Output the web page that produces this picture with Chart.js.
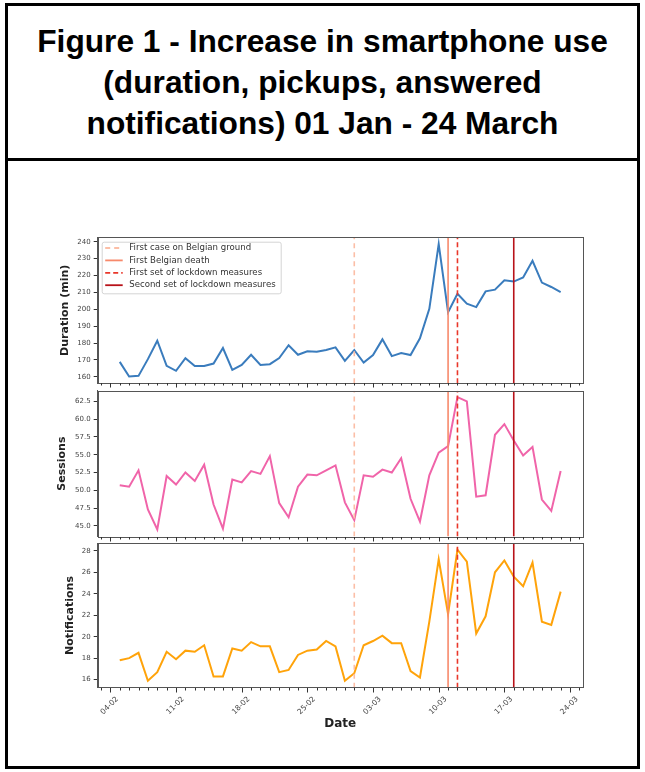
<!DOCTYPE html>
<html>
<head>
<meta charset="utf-8">
<title>Figure 1</title>
<script src="https://cdn.jsdelivr.net/npm/chart.js@4.4.0/dist/chart.umd.min.js"></script>
<style>
  body { margin: 0; background: #fff; }
  #page { position: relative; width: 645px; height: 772px; overflow: hidden; }
  #frame { position: absolute; left: 5px; top: 3px; width: 635px; height: 766px; border: 3px solid #000; box-sizing: border-box; }
  #sep { position: absolute; left: 5px; top: 158px; width: 635px; height: 3px; background: #000; }
  #title { position: absolute; left: 5px; top: 21px; width: 635px; text-align: center;
    font: bold 31.7px "Liberation Sans", Arial, sans-serif; line-height: 41px; color: #000; }
  canvas { position: absolute; left: 0; }
</style>
</head>
<body>
<div id="page">
  <div id="frame"></div>
  <div id="sep"></div>
  <div id="title">Figure 1 - Increase in smartphone use<br>(duration, pickups, answered<br>notifications) 01 Jan - 24 March</div>
  <canvas id="c1" width="645" height="175" style="top:220px"></canvas>
  <canvas id="c2" width="645" height="170" style="top:378px"></canvas>
  <canvas id="c3" width="645" height="235" style="top:530px"></canvas>
</div>
<script>
// daily values, 05-02 .. 23-03 (2020)
var dates = ['05-02','06-02','07-02','08-02','09-02','10-02','11-02','12-02','13-02','14-02',
  '15-02','16-02','17-02','18-02','19-02','20-02','21-02','22-02','23-02','24-02',
  '25-02','26-02','27-02','28-02','29-02','01-03','02-03','03-03','04-03','05-03',
  '06-03','07-03','08-03','09-03','10-03','11-03','12-03','13-03','14-03','15-03',
  '16-03','17-03','18-03','19-03','20-03','21-03','22-03','23-03'];

var duration = [168.9,160.2,160.6,170.5,181.4,166.5,163.6,171.1,166.4,166.5,
  167.9,177.1,164.2,167.1,173.1,167.1,167.5,171.1,178.7,173.1,
  175.1,174.9,175.9,177.5,169.5,175.9,168.5,172.9,182.2,172.3,
  174.1,172.9,182.8,200.3,238.6,198.3,209.2,203.3,201.3,210.6,
  211.6,217.2,216.4,218.8,228.7,215.8,213.2,210.2];

var sessions = [50.7,50.5,52.8,47.3,44.5,52.0,50.8,52.5,51.3,53.6,
  48.0,44.6,51.5,51.1,52.7,52.3,54.8,48.2,46.2,50.5,
  52.2,52.1,52.8,53.5,48.3,45.8,52.1,51.9,52.9,52.5,
  54.5,48.8,45.6,52.1,55.3,56.2,63.1,62.5,49.1,49.3,
  57.8,59.3,57.0,54.9,56.1,48.7,47.1,52.7];

var notifications = [17.8,18.0,18.5,15.9,16.7,18.6,17.9,18.7,18.6,19.2,
  16.3,16.3,18.9,18.7,19.5,19.1,19.1,16.7,16.9,18.3,
  18.7,18.8,19.6,19.1,15.9,16.6,19.2,19.6,20.1,19.4,
  19.4,16.8,16.2,21.4,27.2,22.1,28.1,27.0,20.3,21.9,
  26.0,27.1,25.6,24.7,26.9,21.4,21.1,24.2];

var durationTicks = [160,170,180,190,200,210,220,230,240];
var sessionTicks = [45,47.5,50,52.5,55,57.5,60,62.5];
var notifTicks = [16,18,20,22,24,26,28];
var weekLabels = ['04-02','11-02','18-02','25-02','03-03','10-03','17-03','24-03'];

var eventNames = ['First case on Belgian ground','First Belgian death','First set of lockdown measures','Second set of lockdown measures'];
var eventDates = ['01-03','11-03','12-03','18-03'];
var eventColors = ['#fcbea6','#f7896b','#e9372a','#b81219'];
var eventDash = [[5,4],[],[5,3],[]];

function dayNum(s) {
  var d = parseInt(s.slice(0,2)), m = parseInt(s.slice(3,5));
  return d + (m == 3 ? 60 : m == 2 ? 31 : 0);
}

var xMin = dayNum(dates[0]) - 2.35;
var xMax = dayNum(dates[dates.length-1]) + 2.35;
var FONT = '"DejaVu Sans", sans-serif';

// frame, daily minor ticks and weekly major ticks on the date axis
var framePlugin = {
  id: 'frame',
  afterDraw: function(chart) {
    var ctx = chart.ctx, a = chart.chartArea, x = chart.scales.x;
    ctx.save();
    ctx.strokeStyle = '#555';
    ctx.lineWidth = 1;
    ctx.strokeRect(Math.round(a.left) + 0.5, Math.round(a.top) + 0.5, Math.round(a.right - a.left), Math.round(a.bottom - a.top));
    ctx.strokeStyle = '#333';
    var wk = weekLabels.map(dayNum);
    for (var d = Math.ceil(xMin); d <= xMax; d++) {
      var px = Math.round(x.getPixelForValue(d)) + 0.5;
      var len = wk.indexOf(d) >= 0 ? 4.5 : 2.5;
      ctx.beginPath();
      ctx.moveTo(px, Math.round(a.bottom));
      ctx.lineTo(px, Math.round(a.bottom) + len);
      ctx.stroke();
    }
    ctx.restore();
  }
};

// matplotlib-like legend box in the upper left corner
var boxLegend = {
  id: 'boxLegend',
  afterDraw: function(chart, args, opts) {
    if (!opts.show) return;
    var ctx = chart.ctx, a = chart.chartArea;
    var bx = a.left + 4, by = a.top + 4.4, bw = 179, bh = 51.6;
    ctx.save();
    ctx.fillStyle = 'rgba(255,255,255,0.85)';
    ctx.strokeStyle = '#d4d4d4';
    ctx.lineWidth = 1;
    ctx.beginPath();
    ctx.roundRect(bx + 0.5, by + 0.5, bw, bh, 2);
    ctx.fill();
    ctx.stroke();
    ctx.font = '8.6px ' + FONT;
    ctx.textBaseline = 'middle';
    ctx.fillStyle = '#333';
    for (var i = 0; i < eventNames.length; i++) {
      var yy = by + 6.3 + i * 12.4;
      ctx.strokeStyle = eventColors[i];
      ctx.lineWidth = 1.8;
      ctx.setLineDash(eventDash[i]);
      ctx.beginPath();
      ctx.moveTo(bx + 3.5, yy);
      ctx.lineTo(bx + 21, yy);
      ctx.stroke();
      ctx.setLineDash([]);
      ctx.fillText(eventNames[i], bx + 27.5, yy);
    }
    ctx.restore();
  }
};

function makePanel(id, values, color, yMin, yMax, yTicks, yTitle, yDigits, cfg) {
  var sets = [];
  for (var i = 0; i < eventDates.length; i++) {
    sets.push({
      data: [{x: dayNum(eventDates[i]), y: yMin}, {x: dayNum(eventDates[i]), y: yMax}],
      borderColor: eventColors[i], borderWidth: 1.6, borderDash: eventDash[i],
      pointRadius: 0
    });
  }
  sets.push({
    data: values.map(function(v, k) { return {x: dayNum(dates[k]), y: v}; }),
    borderColor: color, borderWidth: 2, pointRadius: 0, tension: 0
  });

  return new Chart(document.getElementById(id).getContext('2d'), {
    type: 'line',
    data: {datasets: sets},
    options: {
      responsive: false,
      animation: false,
      layout: {padding: {left: cfg.left, right: 62.3, top: cfg.top, bottom: cfg.bottom}},
      plugins: {
        legend: {display: false},
        tooltip: {enabled: false},
        boxLegend: {show: !!cfg.legend}
      },
      scales: {
        x: {
          type: 'linear', min: xMin, max: xMax,
          display: !!cfg.showX,
          grid: {display: false, drawTicks: false},
          border: {display: false},
          afterBuildTicks: function(s) { s.ticks = weekLabels.map(function(l) { return {value: dayNum(l)}; }); },
          ticks: {
            autoSkip: false, minRotation: 45, maxRotation: 45, labelOffset: 7, padding: 7,
            font: {family: FONT, size: 7.5}, color: '#444',
            callback: function(v, i) { return weekLabels[i]; }
          },
          title: {display: !!cfg.showX, text: 'Date', color: '#222',
            font: {family: FONT, size: 12, weight: 'bold'}, padding: {top: 0, bottom: 4}},
          afterFit: function(s) { if (cfg.showX) s.height = 47.5; }
        },
        y: {
          min: yMin, max: yMax,
          afterBuildTicks: function(s) { s.ticks = yTicks.map(function(v) { return {value: v}; }); },
          ticks: {font: {family: FONT, size: 7}, color: '#444', padding: 3,
            callback: function(v) { return v.toFixed(yDigits); }},
          grid: {drawOnChartArea: false, tickLength: 4, tickColor: '#333'},
          border: {display: true, color: '#555'},
          title: {display: true, text: yTitle, color: '#222',
            font: {family: FONT, size: 11, weight: 'bold'}, padding: {top: 0, bottom: 0}},
          afterFit: function(s) { s.width = 97.7 - cfg.left; }
        }
      }
    },
    plugins: [framePlugin, boxLegend]
  });
}

// canvas tops: 220, 378, 530 -> plot areas 237.3-383.3, 390.7-536.5, 543.3-687.7
makePanel('c1', duration, '#3a7cbd', 156.2, 242.6, durationTicks, 'Duration (min)', 0,
  {left: 58.1, top: 17.3, bottom: 11.7, legend: true});
makePanel('c2', sessions, '#f064a9', 43.5, 64.0, sessionTicks, 'Sessions', 1,
  {left: 55.5, top: 12.7, bottom: 11.5});
makePanel('c3', notifications, '#ffa30a', 15.25, 28.7, notifTicks, 'Notifications', 0,
  {left: 63.9, top: 13.3, bottom: 29.8, showX: true});
</script>
</body>
</html>
